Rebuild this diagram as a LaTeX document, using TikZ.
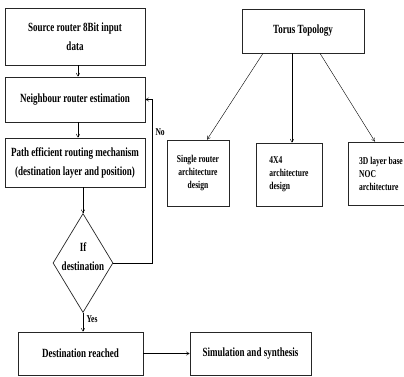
\documentclass[tikz,border=0pt]{standalone}
\usepackage{fontspec}
\setmainfont[FakeStretch=0.72]{Liberation Serif}
\usetikzlibrary{arrows,shapes.geometric}

\tikzset{
	box/.style={draw=black!85, line width=0.7pt, rectangle, align=center, font=\bfseries\fontsize{12.5}{19}\selectfont},
	smallbox/.style={draw=black!85, line width=0.7pt, rectangle, font=\bfseries\fontsize{10.5}{13}\selectfont},
	decision/.style={draw=black!85, line width=0.7pt, diamond, inner sep=0pt},
	lbl/.style={font=\bfseries\fontsize{10.5}{13}\selectfont}
}

\begin{document}
\begin{tikzpicture}[x=1pt,y=-1pt]
	\path[use as bounding box, clip] (0,0) rectangle (404,377);
% left column
\node[box, minimum width=140pt, minimum height=57pt] (src) at (75,36.5) {Source router 8Bit input\\data};
\node[box, minimum width=140pt, minimum height=45pt] (nbr) at (75,99.5) {Neighbour router estimation};
\node[box, minimum width=140pt, minimum height=49pt] (path) at (75,162.5) {Path efficient routing mechanism\\(destination layer and position)};
\node[decision, minimum width=60pt, minimum height=99pt] (dec) at (83,263) {};
\node[lbl, align=center, font=\bfseries\fontsize{12.5}{19}\selectfont] (dectext) at (83,257) {If\\destination};
\node[box, minimum width=125pt, minimum height=43pt] (dest) at (80.5,353.5) {Destination reached};
\node[box, minimum width=121pt, minimum height=43pt] (sim) at (250.5,353.5) {Simulation and synthesis};
\coordinate (turn) at (152,99.5);
% right part
\node[box, minimum width=122pt, minimum height=44pt] (torus) at (303,31) {Torus Topology};
\node[smallbox, align=center, minimum width=62pt, minimum height=66pt] (single) at (198,173) {Single router\\architecture\\design};
\node[smallbox, align=left, minimum width=66pt, minimum height=63pt] (arch) at (289,174.5) {4X4\\architecture\\design};
\node[smallbox, align=left, minimum width=66pt, minimum height=63pt] (noc) at (381,173.5) {3D layer base\\NOC\\architecture};
\draw [->,>=angle 60](src.south -| 78,0)--(nbr.north -| 78,0);
\draw [->,>=angle 60](nbr.south -| 78,0)--(path.north -| 78,0);
\draw [->,>=angle 60](path.south -| dec.north)--(dec.north);
\draw [->,>=angle 60](dec.east) -| (turn) node[lbl,pos=0.9,right]{No} -- (nbr.east);
\draw [->,>=angle 60](dec.south)--(dest.north -| dec.south) node[lbl,pos=0.35,right]{Yes};
\draw [->,>=angle 60](dest.east)--(sim.west);
\draw [->,>=angle 60]([xshift=-40pt]torus.south)--([xshift=9pt]single.north);
\draw [->,>=angle 60]([xshift=-11pt]torus.south)--([xshift=3pt]arch.north);
\draw [->,>=angle 60]([xshift=17pt]torus.south)--([xshift=-6pt]noc.north);
	\end{tikzpicture}
\end{document}
